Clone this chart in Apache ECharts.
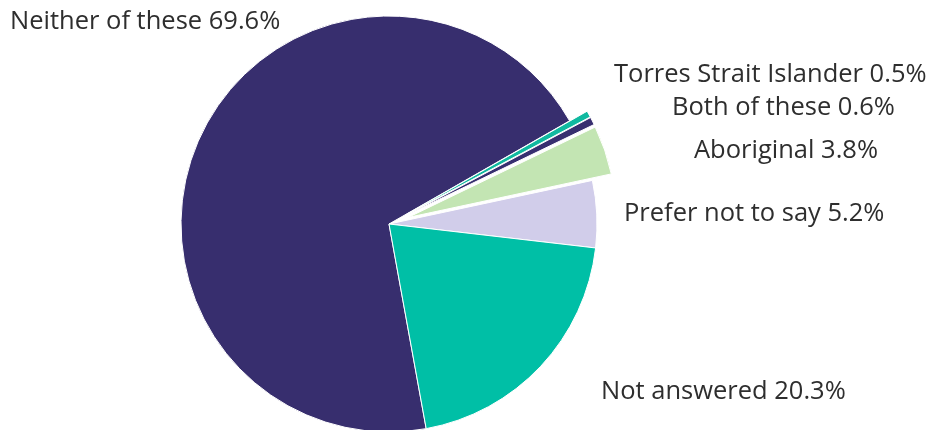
<!DOCTYPE html>
<html>
<head>
<meta charset="utf-8">
<title>Aboriginal and Torres Strait Islander status</title>
<script src="https://cdn.jsdelivr.net/npm/echarts@6/dist/echarts.min.js"></script>
<style>
  html, body { margin: 0; padding: 0; background: #ffffff; }
  #chart { width: 930px; height: 430px; }
</style>
</head>
<body>
<div id="chart"></div>
<script>
// Response categories and their shares (%)
const categories = [
  'Neither of these',
  'Torres Strait Islander',
  'Both of these',
  'Aboriginal',
  'Prefer not to say',
  'Not answered'
];
const shares = [69.6, 0.5, 0.6, 3.8, 5.2, 20.3];
// Slices pulled out from the pie
const pulledOut = ['Torres Strait Islander', 'Both of these', 'Aboriginal'];

const palette = {
  'Neither of these': '#372e6e',
  'Torres Strait Islander': '#10b9a0',
  'Both of these': '#382f70',
  'Aboriginal': '#c3e5b3',
  'Prefer not to say': '#d1cdea',
  'Not answered': '#00bfa6'
};

// Where each label sits (left edge, vertical middle) in the canvas
const labelSpots = {
  'Neither of these': [10, 22],
  'Torres Strait Islander': [614, 75],
  'Both of these': [672, 108],
  'Aboriginal': [694, 151],
  'Prefer not to say': [624, 214],
  'Not answered': [601, 392]
};

const pieGeometry = {
  center: [389, 224],
  radius: 208,
  startAngle: -79.7,
  clockwise: true
};

const chart = echarts.init(document.getElementById('chart'), null, { renderer: 'canvas' });

chart.setOption({
  animation: false,
  series: [
    // Slices
    Object.assign({
      type: 'pie',
      selectedMode: 'multiple',
      selectedOffset: 20,
      data: categories.map((name, i) => ({
        name: name,
        value: shares[i],
        selected: pulledOut.includes(name),
        itemStyle: { color: palette[name] }
      })),
      itemStyle: { borderColor: '#ffffff', borderWidth: 1 },
      label: { show: false },
      labelLine: { show: false },
      emphasis: { disabled: true }
    }, pieGeometry),
    // Category labels, laid over the same pie geometry
    Object.assign({
      type: 'pie',
      silent: true,
      avoidLabelOverlap: false,
      data: categories.map((name, i) => ({ name: name, value: shares[i] })),
      itemStyle: { color: 'rgba(0,0,0,0)' },
      label: {
        show: true,
        position: 'outside',
        formatter: p => p.name + ' ' + p.value.toFixed(1) + '%',
        fontFamily: 'Open Sans',
        fontSize: 25.5,
        color: '#2e2e2e'
      },
      labelLine: { show: false },
      labelLayout: params => {
        const spot = labelSpots[categories[params.dataIndex]];
        return { x: spot[0], y: spot[1], align: 'left', verticalAlign: 'middle' };
      },
      emphasis: { disabled: true }
    }, pieGeometry)
  ]
});
</script>
</body>
</html>
